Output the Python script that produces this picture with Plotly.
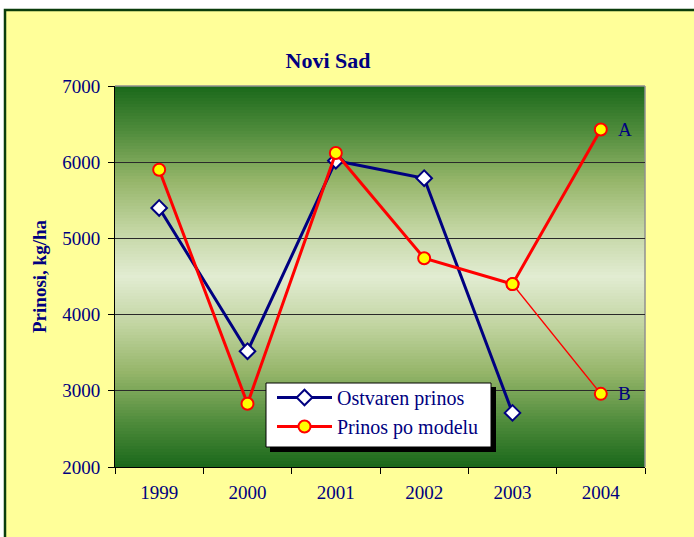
import plotly.graph_objects as go

years = ["1999", "2000", "2001", "2002", "2003", "2004"]
ostvaren = [5400, 3520, 6020, 5790, 2710, None]
model = [5900, 2830, 6120, 4740, 4400, 6430]
model_b_years = ["2003", "2004"]
model_b = [4400, 2960]
labels = ["A", "B"]

W, H = 694, 537
L, R, T, B = 115, 49, 86, 70
pw, ph = W - L - R, H - T - B

navy = "#000080"
serif = "Liberation Serif, Times New Roman, serif"

def px2paper_x(px):
    return (px - L) / pw

def px2paper_y(py):
    return (H - B - py) / ph

shapes = []
# outer yellow frame with dark green border
shapes.append(dict(type="rect", xref="paper", yref="paper",
                   x0=px2paper_x(5), x1=px2paper_x(W + 10),
                   y0=px2paper_y(H + 10), y1=px2paper_y(10),
                   fillcolor="#ffff99", line=dict(color="#0b3d0b", width=2.5),
                   layer="below"))

# vertical gradient background in plot area
def lerp(c1, c2, t):
    return tuple(int(round(a + (b - a) * t)) for a, b in zip(c1, c2))

stops = [(0.0, (26, 104, 26)), (0.12, (80, 140, 60)), (0.25, (150, 182, 106)),
         (0.38, (196, 214, 164)), (0.5, (226, 236, 210))]

def color_at(f):
    d = f if f <= 0.5 else 1 - f
    for (p1, c1), (p2, c2) in zip(stops[:-1], stops[1:]):
        if p1 <= d <= p2:
            return lerp(c1, c2, (d - p1) / (p2 - p1))
    return stops[-1][1]

N = 127
for i in range(N):
    f = (i + 0.5) / N
    c = color_at(f)
    top = 1 - i / N
    bot = max(0, 1 - (i + 2.5) / N)
    shapes.append(dict(type="rect", xref="x domain", yref="y domain",
                       x0=0, x1=1, y0=bot, y1=top,
                       fillcolor="rgb(%d,%d,%d)" % c, line=dict(width=0),
                       layer="below"))

# gray top and right border of plot area
shapes.append(dict(type="line", xref="x domain", yref="y domain", x0=0, x1=1, y0=1, y1=1,
                   line=dict(color="#909090", width=1.5), layer="below"))
shapes.append(dict(type="line", xref="x domain", yref="y domain", x0=1, x1=1, y0=0, y1=1,
                   line=dict(color="#909090", width=1.5), layer="below"))

# legend box (drawn as shapes) with drop shadow
bx0, bx1, by0, by1 = 266, 491, 383, 447
shapes.append(dict(type="rect", xref="paper", yref="paper",
                   x0=px2paper_x(bx0 + 4), x1=px2paper_x(bx1 + 5),
                   y0=px2paper_y(by1 + 5), y1=px2paper_y(by0 + 4),
                   fillcolor="black", line=dict(width=0), layer="above"))
shapes.append(dict(type="rect", xref="paper", yref="paper",
                   x0=px2paper_x(bx0), x1=px2paper_x(bx1),
                   y0=px2paper_y(by1), y1=px2paper_y(by0),
                   fillcolor="white", line=dict(color="black", width=1), layer="above"))

fig = go.Figure()

fig.add_trace(go.Scatter(
    x=model_b_years, y=model_b, mode="lines+markers", showlegend=False,
    line=dict(color="#ff0000", width=1.5),
    marker=dict(symbol="circle", size=12, color="#ffff00",
                line=dict(color="#ff0000", width=2)),
    hoverinfo="skip"))

fig.add_trace(go.Scatter(
    x=years, y=ostvaren, mode="lines+markers", name="Ostvaren prinos",
    line=dict(color=navy, width=3),
    marker=dict(symbol="diamond", size=12, color="white",
                line=dict(color=navy, width=2))))

fig.add_trace(go.Scatter(
    x=years, y=model, mode="lines+markers", name="Prinos po modelu",
    line=dict(color="#ff0000", width=3),
    marker=dict(symbol="circle", size=12, color="#ffff00",
                line=dict(color="#ff0000", width=2))))

annotations = [
    dict(x=years.index(years[-1]), y=model[-1], text=labels[0], showarrow=False,
         xshift=24, xref="x", yref="y",
         font=dict(family=serif, size=19, color=navy)),
    dict(x=years.index(model_b_years[-1]), y=model_b[-1], text=labels[1], showarrow=False,
         xshift=24, xref="x", yref="y",
         font=dict(family=serif, size=19, color=navy)),
]

fig.update_layout(
    width=W, height=H,
    margin=dict(l=L, r=R, t=T, b=B),
    paper_bgcolor="white",
    plot_bgcolor="rgba(0,0,0,0)",
    title=dict(text="<b>Novi Sad</b>", x=px2paper_x(328), xref="paper", xanchor="center",
               y=1 - 60 / H, yanchor="middle",
               font=dict(family=serif, size=22, color=navy)),
    font=dict(family=serif, color=navy),
    xaxis=dict(type="category", categoryorder="array", categoryarray=years,
               range=[-0.5, 5.5], tickson="boundaries",
               ticks="outside", ticklen=6, tickcolor="black",
               showline=True, linecolor="black", linewidth=1,
               showgrid=False, zeroline=False, ticklabelstandoff=8,
               tickfont=dict(family=serif, size=19, color=navy)),
    yaxis=dict(range=[2000, 7000], dtick=1000, ticks="outside", ticklen=6,
               tickcolor="black", showline=True, linecolor="black", linewidth=1,
               showgrid=True, gridcolor="#2a2a2a", gridwidth=1, zeroline=False,
               ticklabelstandoff=4,
               tickfont=dict(family=serif, size=19, color=navy),
               title=dict(text="<b>Prinosi, kg/ha</b>", standoff=10,
                          font=dict(family=serif, size=19, color=navy))),
    legend=dict(x=px2paper_x(bx0 + 6), y=px2paper_y(by0 - 5), xanchor="left", yanchor="top",
                bgcolor="rgba(0,0,0,0)", borderwidth=0,
                font=dict(family=serif, size=20, color=navy),
                tracegroupgap=0, itemwidth=55),
    shapes=shapes,
    annotations=annotations,
)

fig.write_html("out.html", config={"displayModeBar": False},
               post_script="document.body.style.margin='0';")
